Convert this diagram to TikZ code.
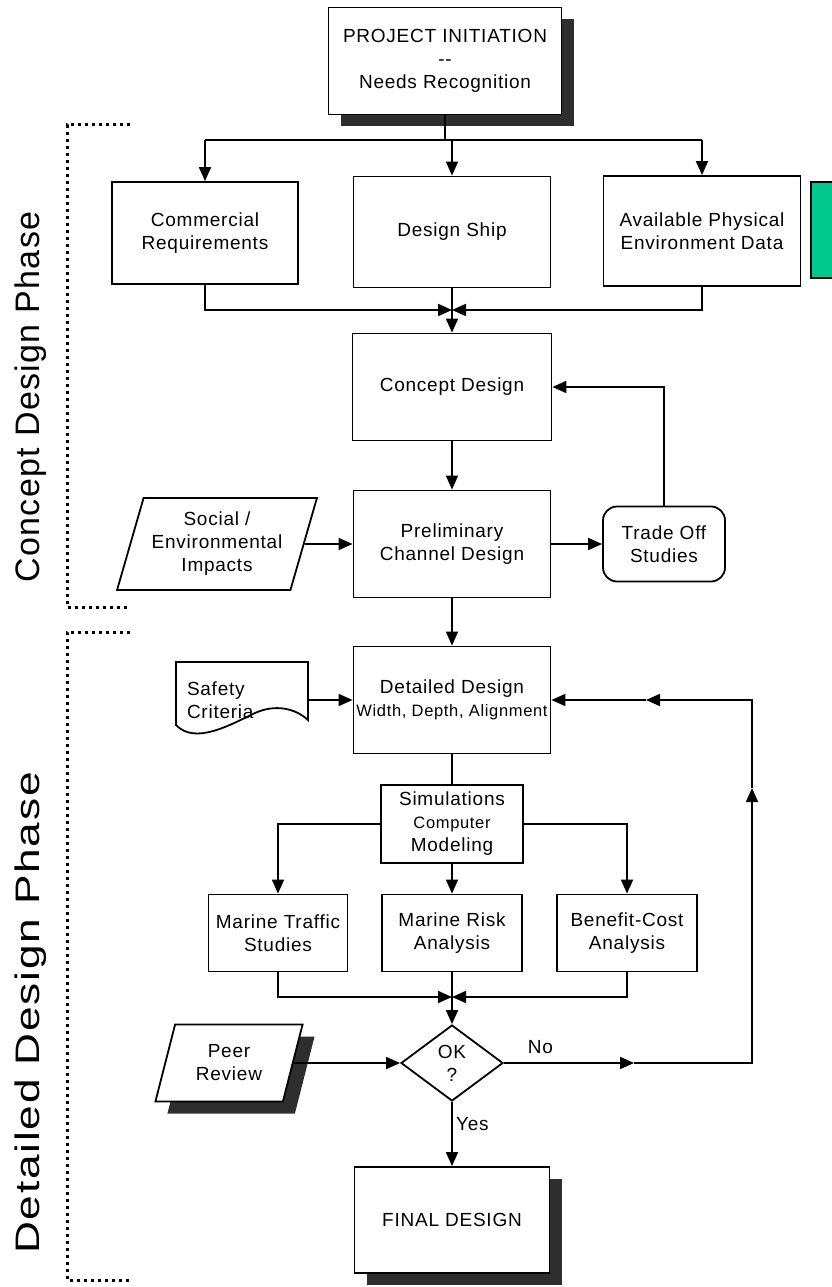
\documentclass[tikz,border=0pt]{standalone}
\usepackage{fontspec}
\setmainfont{Liberation Sans}[LetterSpace=4]
\usetikzlibrary{arrows.meta,shapes.geometric,shadows}
\definecolor{tabgreen}{RGB}{0,199,140}
\newcommand\sublabel{\fontsize{16.5}{21}\selectfont}
\begin{document}
\begin{tikzpicture}[x=1pt, y=-1pt, line width=1.8pt,
    every node/.style={font=\fontsize{19}{23}\selectfont, align=center},
    box/.style={draw, rectangle, inner sep=2pt},
    shadowbox/.style={box, fill=white, drop shadow={shadow xshift=12pt, shadow yshift=-12pt, fill=black!82, opacity=1}},
    data/.style={draw, trapezium, trapezium left angle=70, trapezium right angle=110, trapezium stretches=true, inner sep=1pt},
    arr/.style={-{Triangle[length=14pt, width=12pt]}},
    phase/.style={rotate=90, font=\fontsize{34}{40}\selectfont},
    bracket/.style={line width=3pt, dash pattern=on 3pt off 4pt}]
                    \useasboundingbox (0, 0) rectangle (832, 1287);

                    \node (init) at (445, 61) [shadowbox, minimum width=233pt, minimum height=107pt] {PROJECT INITIATION\\-{}-\\Needs Recognition};
                    \node (commercial) at (205, 233) [box, minimum width=186pt, minimum height=102pt] {Commercial\\Requirements};
                    \node (ship) at (452, 232) [box, minimum width=197pt, minimum height=111pt] {Design Ship};
                    \node (avail) at (702, 231) [box, minimum width=197pt, minimum height=110pt] {Available Physical\\Environment Data};
                    \node (tab) at (830, 230) [box, fill=tabgreen, minimum width=38pt, minimum height=96pt] {};
                    \node (concept) at (452, 387) [box, minimum width=199pt, minimum height=107pt] {Concept Design};
                    \node (prelim) at (452, 544) [box, minimum width=197pt, minimum height=107pt] {Preliminary\\Channel Design};
                    \node (social) at (217, 544) [data, minimum width=200pt, minimum height=92pt] {Social /\\Environmental\\Impacts};
                    \node (trade) at (664, 544) [box, rounded corners=14pt, minimum width=122pt, minimum height=75pt] {Trade Off\\Studies};
                    \node (detail) at (452, 700) [box, minimum width=197pt, minimum height=107pt] {Detailed Design\\\sublabel Width, Depth, Alignment};
                    \node (safety) at (242, 700) [minimum height=74pt, text width=110pt, inner xsep=11pt, align=left] {Safety\\Criteria};
                    \node (sim) at (452, 824) [box, minimum width=142pt, minimum height=78pt] {Simulations\\\sublabel Computer\\Modeling};
                    \node (traffic) at (278, 933) [box, minimum width=139pt, minimum height=77pt] {Marine Traffic\\Studies};
                    \node (risk) at (452, 933) [box, minimum width=140pt, minimum height=77pt] {Marine Risk\\Analysis};
                    \node (benefit) at (627, 933) [box, minimum width=140pt, minimum height=77pt] {Benefit-Cost\\Analysis};
                    \node (ok) at (452, 1063) [draw, diamond, minimum width=102pt, minimum height=76pt, inner sep=0pt] {OK\\?};
                    \node (peer) at (229, 1063) [data, trapezium left angle=72, trapezium right angle=108, fill=white, drop shadow={shadow xshift=12pt, shadow yshift=-12pt, fill=black!82, opacity=1}, minimum width=148pt, minimum height=77pt] {Peer\\Review};
                    \node (final) at (452, 1220) [shadowbox, minimum width=195pt, minimum height=106pt] {FINAL DESIGN};

                    \node (conceptPhase) at (31, 397) [phase] {Concept Design Phase};
                    \node (detailPhase) at (31, 1013) [phase, xscale=1.3] {Detailed Design Phase};
                    \draw[bracket] (130, 125) -- (67, 125) -- (67, 607) -- (130, 607);
                    \draw[bracket] (130, 632) -- (67, 632) -- (67, 1280) -- (130, 1280);

                    \draw (176, 662) -- (308, 662) -- (308, 720) .. controls (295, 708) and (275, 704) .. (255, 713) .. controls (230, 725) and (195, 745) .. (176, 725) -- cycle;

                    \coordinate (forkL) at (205, 140);
                    \coordinate (forkR) at (702, 140);
                    \coordinate (join1) at (452, 310);
                    \coordinate (join2) at (452, 997);
                    \coordinate (noTip) at (634, 1063);
                    \coordinate (loopB) at (752, 1063);
                    \coordinate (upTip) at (752, 788);
                    \coordinate (loopT) at (752, 700);
                    \coordinate (backTip) at (646, 700);

                    \draw (forkL) -- (forkR);
                    \draw (init.south) -- (init.south |- forkL);
                    \draw[arr] (forkL) -- (commercial.north);
                    \draw[arr] (ship.north |- forkL) -- (ship.north);
                    \draw[arr] (forkR) -- (avail.north);
                    \draw[arr] (commercial.south) |- (join1);
                    \draw[arr] (avail.south) |- (join1);
                    \draw[arr] (ship.south) -- (concept.north);
                    \draw[arr] (concept.south) -- (prelim.north);
                    \draw[arr] (social.east) -- (prelim.west);
                    \draw[arr] (prelim.east) -- (trade.west);
                    \draw[arr] (trade.north) |- (concept.east);
                    \draw[arr] (prelim.south) -- (detail.north);
                    \draw[arr] (safety.east) -- (detail.west);
                    \draw (detail.south) -- (sim.north);
                    \draw[arr] (sim.west) -| (traffic.north);
                    \draw[arr] (sim.south) -- (risk.north);
                    \draw[arr] (sim.east) -| (benefit.north);
                    \draw[arr] (traffic.south) |- (join2);
                    \draw[arr] (benefit.south) |- (join2);
                    \draw[arr] (risk.south) -- (ok.north);
                    \draw[arr] (peer.east) -- (ok.west);
                    \draw[arr] (ok.south) -- node[right, pos=0.35] {Yes} (final.north);
                    \draw[arr] (ok.east) -- node[above, pos=0.28, yshift=5pt] {No} (noTip);
                    \draw[arr] (noTip) -- (loopB) -- (upTip);
                    \draw[arr] (upTip) -- (loopT) -- (backTip);
                    \draw[arr] (backTip) -- (detail.east);
                \end{tikzpicture}
\end{document}
